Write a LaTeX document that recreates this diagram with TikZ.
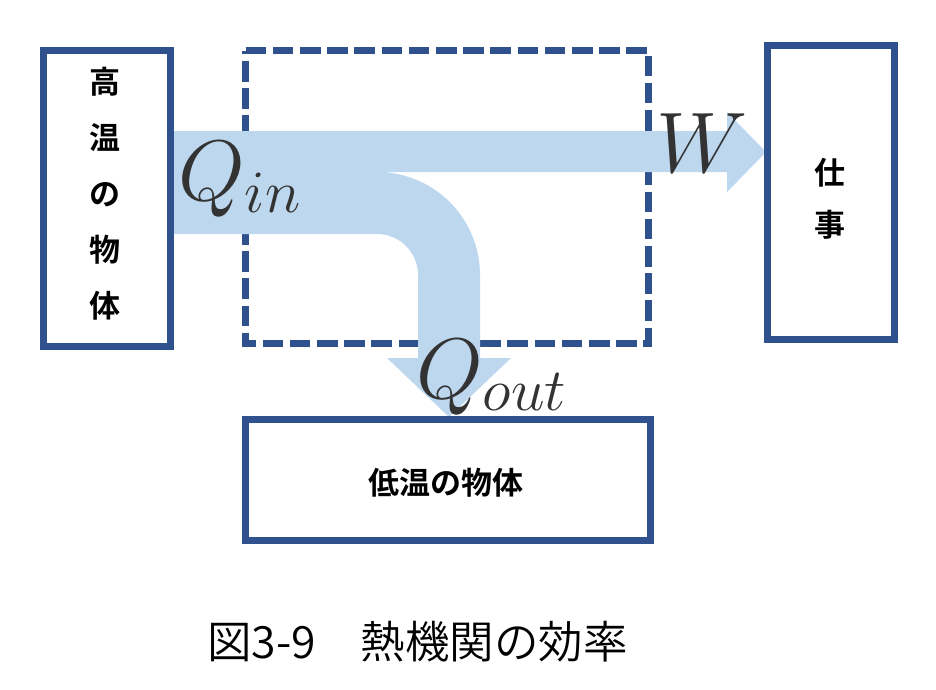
\RequirePackage{fix-cm}
\documentclass[tikz,border=0pt]{standalone}
\usepackage{fontspec}
\IfFontExistsTF{Noto Sans CJK JP Bold}
  {\newfontfamily\jpb{Noto Sans CJK JP Bold}}
  {\newfontfamily\jpb{Noto Sans CJK JP}[FakeBold=1.5]}
\IfFontExistsTF{Noto Sans CJK JP DemiLight}
  {\newfontfamily\jpl{Noto Sans CJK JP DemiLight}}
  {\newfontfamily\jpl{Noto Sans CJK JP}}
\definecolor{boxblue}{HTML}{2F528F}
\definecolor{bandblue}{HTML}{BDD7EE}
\definecolor{mathgray}{HTML}{333333}
\tikzset{
  solidbox/.style={draw=boxblue, line width=7pt, fill=white, rectangle, inner sep=0pt, outer sep=0pt},
  label/.style={font=\jpb\fontsize{31}{56}\selectfont, align=center, inner sep=0pt, text=black},
  mathlbl/.style={font=\fontsize{86}{90}\selectfont, text=mathgray, inner sep=0pt, anchor=base west},
}
\begin{document}
\begin{tikzpicture}[x=1pt,y=-1pt]
\useasboundingbox (0,0) rectangle (936,689);
% dashed engine box
\draw[boxblue, line width=7pt, dash pattern=on 20.7pt off 6.5pt]
  (245.5,50.5) -- (648.5,50.5) -- (648.5,343) -- (245.5,343) -- cycle;
% boxes
\node[solidbox, minimum width=127pt, minimum height=296.5pt] (hot) at (107,198.25) {};
\node[solidbox, minimum width=127pt, minimum height=294.5pt] (work) at (831,192.25) {};
\node[solidbox, minimum width=405pt, minimum height=121pt] (cold) at (448,480) {};
% heat flow band
\fill[bandblue] (170,131) -- (727,131) -- (727,112) -- (766,152) -- (727,192) -- (727,172)
  -- (377,172) arc[start angle=-90, end angle=0, radius=103] -- (480,358) -- (511,358)
  -- (449,417) -- (387,358) -- (418,358) -- (418,275)
  arc[start angle=0, end angle=-90, radius=41] -- (170,234) -- cycle;
% redraw box edges over band ends
\draw[boxblue, line width=7pt] (hot.north east) -- (hot.south east);
\draw[boxblue, line width=7pt] (work.north west) -- (work.south west);
\draw[boxblue, line width=7pt] (cold.north west) -- (cold.north east);
% labels
\node[label] (hotlbl) at (105,194) {高\\温\\の\\物\\体};
\node[label, font=\jpb\fontsize{31}{52}\selectfont] (worklbl) at (830,199) {仕\\事};
\node[label] (coldlbl) at (446,483) {低温の物体};
\node[mathlbl] (qin) at (178,200) {$Q_{in}$};
\node[mathlbl] (w) at (656,172) {$W$};
\node[mathlbl] (qout) at (416,398) {$Q_{out}$};
\node[font=\jpl\fontsize{44.5}{50}\selectfont, inner sep=0pt] (cap) at (417.5,642) {図3-9\hspace{1em}熱機関の効率};
\end{tikzpicture}
\end{document}
